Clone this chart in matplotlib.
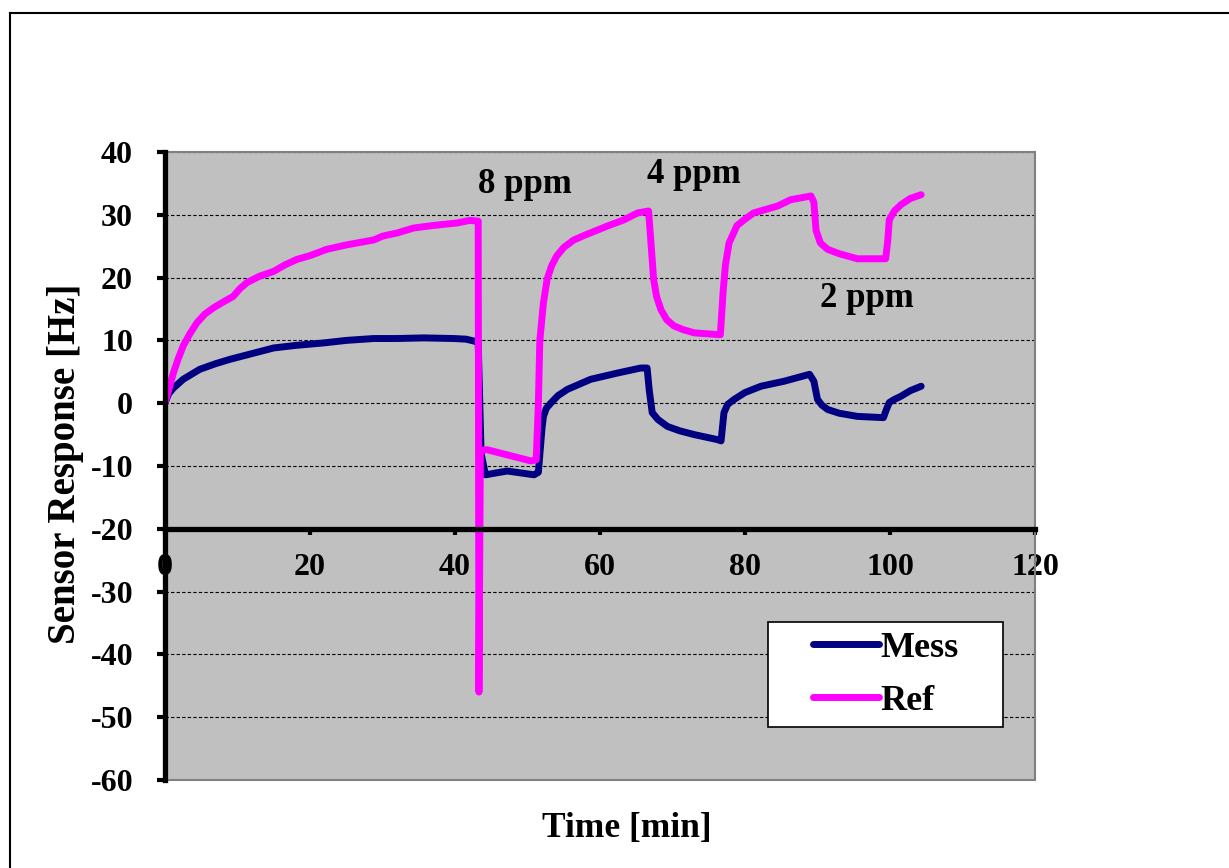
import numpy as np
import matplotlib
matplotlib.use("Agg")
import matplotlib.pyplot as plt
from matplotlib.patches import Rectangle
from matplotlib.legend_handler import HandlerLine2D

# Time axis [min] and sensor responses [Hz]
mess_t = [0, 0.5, 1.15, 2.5, 4.8, 7.0, 9.0, 11.0, 13.0, 15.0, 18.0, 21.9, 25.0,
          28.8, 32.0, 35.7, 39.8, 41.5, 42.6, 43.2, 43.6, 44.2, 47.2, 50.9, 51.5,
          52.0, 52.2, 52.6, 53.2, 54.2, 55.5, 58.7, 62.4, 65.6, 66.5, 66.8, 67.2,
          68.0, 69.3, 71.0, 73.0, 76.2, 76.7, 77.1, 77.6, 78.5, 80.0, 82.2, 85.4,
          88.9, 89.5, 90.0, 90.6, 91.4, 93.0, 95.5, 99.1, 99.5, 99.9, 100.6, 101.5,
          102.8, 104.3]
mess_y = [0, 1.5, 2.4, 3.8, 5.4, 6.3, 7.0, 7.6, 8.2, 8.8, 9.2, 9.6, 10.0,
          10.3, 10.3, 10.4, 10.3, 10.2, 9.9, 9.7, -8.0, -11.4, -10.8, -11.4, -11.0,
          -4.0, -2.1, -0.8, 0.0, 1.2, 2.2, 3.8, 4.8, 5.6, 5.6, 2.0, -1.5,
          -2.6, -3.7, -4.4, -5.0, -5.8, -6.0, -1.5, -0.2, 0.6, 1.7, 2.7, 3.5,
          4.6, 3.5, 0.6, -0.3, -1.0, -1.6, -2.1, -2.3, -1.0, 0.1, 0.6, 1.1,
          2.0, 2.7]

ref_t = [0, 0.6, 1.15, 1.8, 2.5, 3.4, 4.4, 5.5, 6.7, 8.0, 9.4, 10.3, 11.3, 13.0,
         15.0, 16.5, 18.2, 20.0, 22.3, 25.0, 28.8, 30.0, 32.0, 34.3, 37.0, 40.3,
         42.0, 43.2, 43.3, 43.5, 44.4, 50.5, 51.2, 51.5, 51.7, 52.2, 52.7, 53.3,
         54.0, 55.0, 56.4, 58.0, 61.0, 63.3, 65.2, 66.7, 67.0, 67.4, 67.8, 68.4,
         69.2, 70.2, 71.5, 73.0, 76.6, 77.0, 77.3, 77.8, 78.9, 80.0, 81.2, 84.5,
         86.3, 89.1, 89.5, 89.8, 90.4, 91.4, 93.0, 95.5, 99.4, 99.7, 99.9, 100.6,
         101.5, 102.8, 104.3]
ref_y = [0, 2.5, 4.8, 7.0, 9.1, 11.0, 12.8, 14.2, 15.2, 16.1, 17.0, 18.2, 19.2, 20.2,
         21.0, 22.0, 22.9, 23.5, 24.5, 25.2, 26.0, 26.6, 27.1, 27.9, 28.3, 28.7,
         29.1, 29.0, -46.0, -7.5, -7.4, -9.2, -9.0, 0.0, 10.0, 16.0, 19.7, 21.8,
         23.4, 24.8, 26.0, 26.8, 28.2, 29.2, 30.3, 30.6, 26.0, 19.7, 17.0, 14.9,
         13.3, 12.3, 11.7, 11.2, 10.9, 18.0, 22.0, 25.5, 28.3, 29.3, 30.3, 31.4,
         32.4, 33.0, 32.0, 27.5, 25.5, 24.5, 23.8, 23.0, 23.0, 26.0, 29.2, 30.6,
         31.6, 32.6, 33.2]

x_ticks = [0, 20, 40, 60, 80, 100, 120]
y_ticks = [40, 30, 20, 10, 0, -10, -20, -30, -40, -50, -60]

# concentration labels: (text, x, y)
conc_labels = [("8 ppm", 49.7, 34.8), ("4 ppm", 72.9, 36.4), ("2 ppm", 96.8, 16.7)]

NAVY = "#000080"
MAGENTA = "#FF00FF"
PLOT_BG = "#C0C0C0"

plt.rcParams["font.family"] = ["Liberation Serif", "DejaVu Serif"]
plt.rcParams["font.weight"] = "bold"
plt.rcParams["axes.unicode_minus"] = False

W, H = 1229, 868
fig = plt.figure(figsize=(W / 100, H / 100), dpi=100)
fig.patch.set_facecolor("white")

# outer frame of the chart area (left and top edges)
fig.add_artist(plt.Line2D([10 / W, 10 / W], [0, 1 - 13 / H], transform=fig.transFigure,
                          color="black", lw=1.5))
fig.add_artist(plt.Line2D([10 / W, 1], [1 - 13 / H, 1 - 13 / H], transform=fig.transFigure,
                          color="black", lw=1.5))

ax = fig.add_axes([165 / W, 1 - 780 / H, 870 / W, 628 / H])
ax.set_facecolor(PLOT_BG)
ax.set_xlim(0, 120)
ax.set_ylim(-60, 40)

# gray border round the plot area
ax.add_patch(Rectangle((0, 0), 1, 1, transform=ax.transAxes, fill=False,
                       edgecolor="#808080", lw=1.5, zorder=1.6, clip_on=False))

# horizontal dashed grid
ax.yaxis.grid(True, color="black", linestyle=(0, (3, 2)), linewidth=0.8)
ax.xaxis.grid(False)

LW = 5.0
ax.plot(mess_t, mess_y, color=NAVY, lw=LW, solid_joinstyle="round",
        solid_capstyle="round", label="Mess", zorder=2)
ax.plot(ref_t, ref_y, color=MAGENTA, lw=LW, solid_joinstyle="round",
        solid_capstyle="round", label="Ref", zorder=2.1)

for txt, tx, ty in conc_labels:
    ax.text(tx, ty, txt, ha="center", va="center", fontsize=25, fontweight="bold")

# spines
for s in ("top", "right"):
    ax.spines[s].set_visible(False)
ax.spines["left"].set_linewidth(3.8)
ax.spines["left"].set_color("black")
ax.spines["bottom"].set_position(("data", -20))
ax.spines["bottom"].set_linewidth(3.8)
ax.spines["bottom"].set_color("black")
ax.spines["bottom"].set_zorder(3)
ax.spines["left"].set_zorder(3)

ax.set_xticks(x_ticks)
ax.set_xticklabels([str(v) for v in x_ticks])
ax.set_yticks(y_ticks)
ax.set_yticklabels([str(v) for v in y_ticks])
ax.tick_params(axis="y", direction="out", length=6, width=3, pad=17, labelsize=23)
ax.tick_params(axis="x", direction="out", length=4.5, width=3, pad=13, labelsize=23)

fig.text(66 / W, 1 - 464 / H, "Sensor Response [Hz]", rotation=90, ha="center",
         va="center", fontsize=28, fontweight="bold")
fig.text(627 / W, 1 - 828 / H, "Time [min]", ha="center", va="center",
         fontsize=25.5, fontweight="bold")


class InsetLine(HandlerLine2D):
    """Legend line drawn in the right part of its handle box."""

    def get_xdata(self, legend, xdescent, ydescent, width, height, fontsize):
        x0 = -xdescent + width * 0.35
        x1 = -xdescent + width
        return np.array([x0, x1]), np.array([(x0 + x1) / 2])


leg = ax.legend(loc="upper left",
                bbox_to_anchor=(768 / W, 1 - 727 / H, 235 / W, 105 / H),
                bbox_transform=fig.transFigure, mode="expand", borderaxespad=0,
                fontsize=26, frameon=True, fancybox=False, edgecolor="black",
                facecolor="white", framealpha=1, borderpad=0.26, labelspacing=0.55,
                handlelength=2.8, handletextpad=0.05,
                handler_map={plt.Line2D: InsetLine()})
leg.get_frame().set_linewidth(1.2)
for ln in leg.get_lines():
    ln.set_solid_capstyle("round")
    ln.set_linewidth(LW)
leg.set_zorder(5)

fig.savefig("out.png", dpi=100)
